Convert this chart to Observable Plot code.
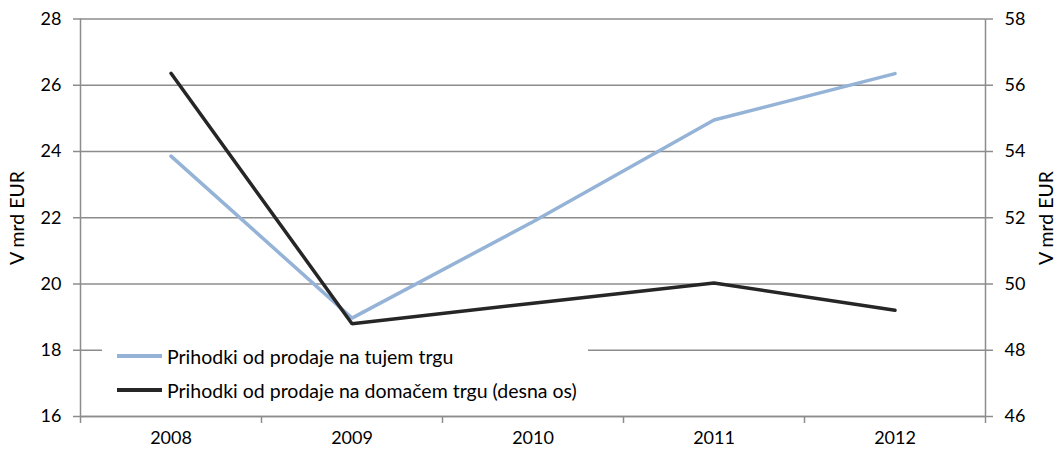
<!DOCTYPE html>
<html><head><meta charset="utf-8">
<script src="https://cdn.jsdelivr.net/npm/d3@7"></script>
<script src="https://cdn.jsdelivr.net/npm/@observablehq/plot@0.6"></script>
<style>
body{margin:0;background:#fff;font-family:Lato,"Open Sans",sans-serif;}
#wrap{position:relative;width:1059px;height:450px;overflow:hidden;}
#legend{position:absolute;left:102px;top:338px;width:486px;height:64px;background:#fff;font-size:19.5px;color:#000;}
.row{position:absolute;left:15px;height:22px;display:flex;align-items:center;white-space:nowrap;}
.sw{width:45px;height:3.5px;margin-right:5px;}
.ytitle{position:absolute;font-size:19.5px;color:#000;white-space:nowrap;transform:translate(-50%,-50%) rotate(-90deg);}
</style></head><body><div id="wrap"></div>
<script>
const years = [2008, 2009, 2010, 2011, 2012];
const foreign = [23.86, 18.97, 21.88, 24.95, 26.35];   // left axis
const domestic = [56.36, 48.8, 49.42, 50.03, 49.21];   // right axis
const leftTicks = [16, 18, 20, 22, 24, 26, 28];
const rightTicks = [46, 48, 50, 52, 54, 56, 58];
const seriesNames = ["Prihodki od prodaje na tujem trgu", "Prihodki od prodaje na domačem trgu (desna os)"];
const seriesColors = ["#95B3D7", "#262626"];
const axisTitle = "V mrd EUR";

const offset = rightTicks[0] - leftTicks[0];
const bounds = [...years.map(y => y - 0.5), years[years.length - 1] + 0.5];
const data = years.flatMap((y, i) => [
  {year: y, v: foreign[i], s: seriesNames[0]},
  {year: y, v: domestic[i] - offset, s: seriesNames[1]}
]);
const gray = "#8c8c8c";

const chart = Plot.plot({
  width: 1059, height: 450,
  marginLeft: 80, marginRight: 74, marginTop: 18.5, marginBottom: 34,
  style: {fontFamily: "Lato, 'Open Sans', sans-serif", fontSize: "18px", color: "#000", background: "#fff"},
  x: {type: "linear", domain: [bounds[0], bounds[bounds.length - 1]]},
  y: {domain: [leftTicks[0], leftTicks[leftTicks.length - 1]]},
  color: {domain: seriesNames, range: seriesColors},
  marks: [
    Plot.gridY(leftTicks, {stroke: gray, strokeOpacity: 1, strokeWidth: 1.5}),
    Plot.ruleX([bounds[0], bounds[bounds.length - 1]], {y1: leftTicks[0], y2: leftTicks[leftTicks.length - 1], stroke: gray, strokeWidth: 1.5}),
    Plot.ruleY([leftTicks[0]], {stroke: gray, strokeWidth: 1.5}),
    Plot.axisY({anchor: "left", ticks: leftTicks, tickSize: 7, tickPadding: 12, stroke: gray, strokeWidth: 1.5, fill: "#000", label: null, tickFormat: d => String(d)}),
    Plot.axisY({anchor: "right", ticks: leftTicks, tickSize: 7, tickPadding: 12, stroke: gray, strokeWidth: 1.5, fill: "#000", label: null, tickFormat: d => String(d + offset)}),
    Plot.axisX({ticks: bounds, tickSize: 7, stroke: gray, strokeWidth: 1.5, tickFormat: () => "", label: null}),
    Plot.axisX({ticks: years, tickSize: 0, tickPadding: 15, fill: "#000", tickFormat: d => String(d), label: null}),
    Plot.line(data, {x: "year", y: "v", z: "s", stroke: "s", strokeWidth: 3.5, strokeLinejoin: "miter", strokeLinecap: "round"})
  ]
});
const wrap = document.getElementById("wrap");
wrap.appendChild(chart);

const legend = document.createElement("div");
legend.id = "legend";
seriesNames.forEach((name, i) => {
  const row = document.createElement("div");
  row.className = "row";
  row.style.top = (7 + i * 34) + "px";
  const sw = document.createElement("div");
  sw.className = "sw";
  sw.style.background = seriesColors[i];
  const t = document.createElement("span");
  t.textContent = name;
  row.appendChild(sw); row.appendChild(t);
  legend.appendChild(row);
});
wrap.appendChild(legend);

[[16, 218], [1045, 218]].forEach(([x, y]) => {
  const d = document.createElement("div");
  d.className = "ytitle";
  d.textContent = axisTitle;
  d.style.left = x + "px"; d.style.top = y + "px";
  wrap.appendChild(d);
});
</script>
</body></html>
